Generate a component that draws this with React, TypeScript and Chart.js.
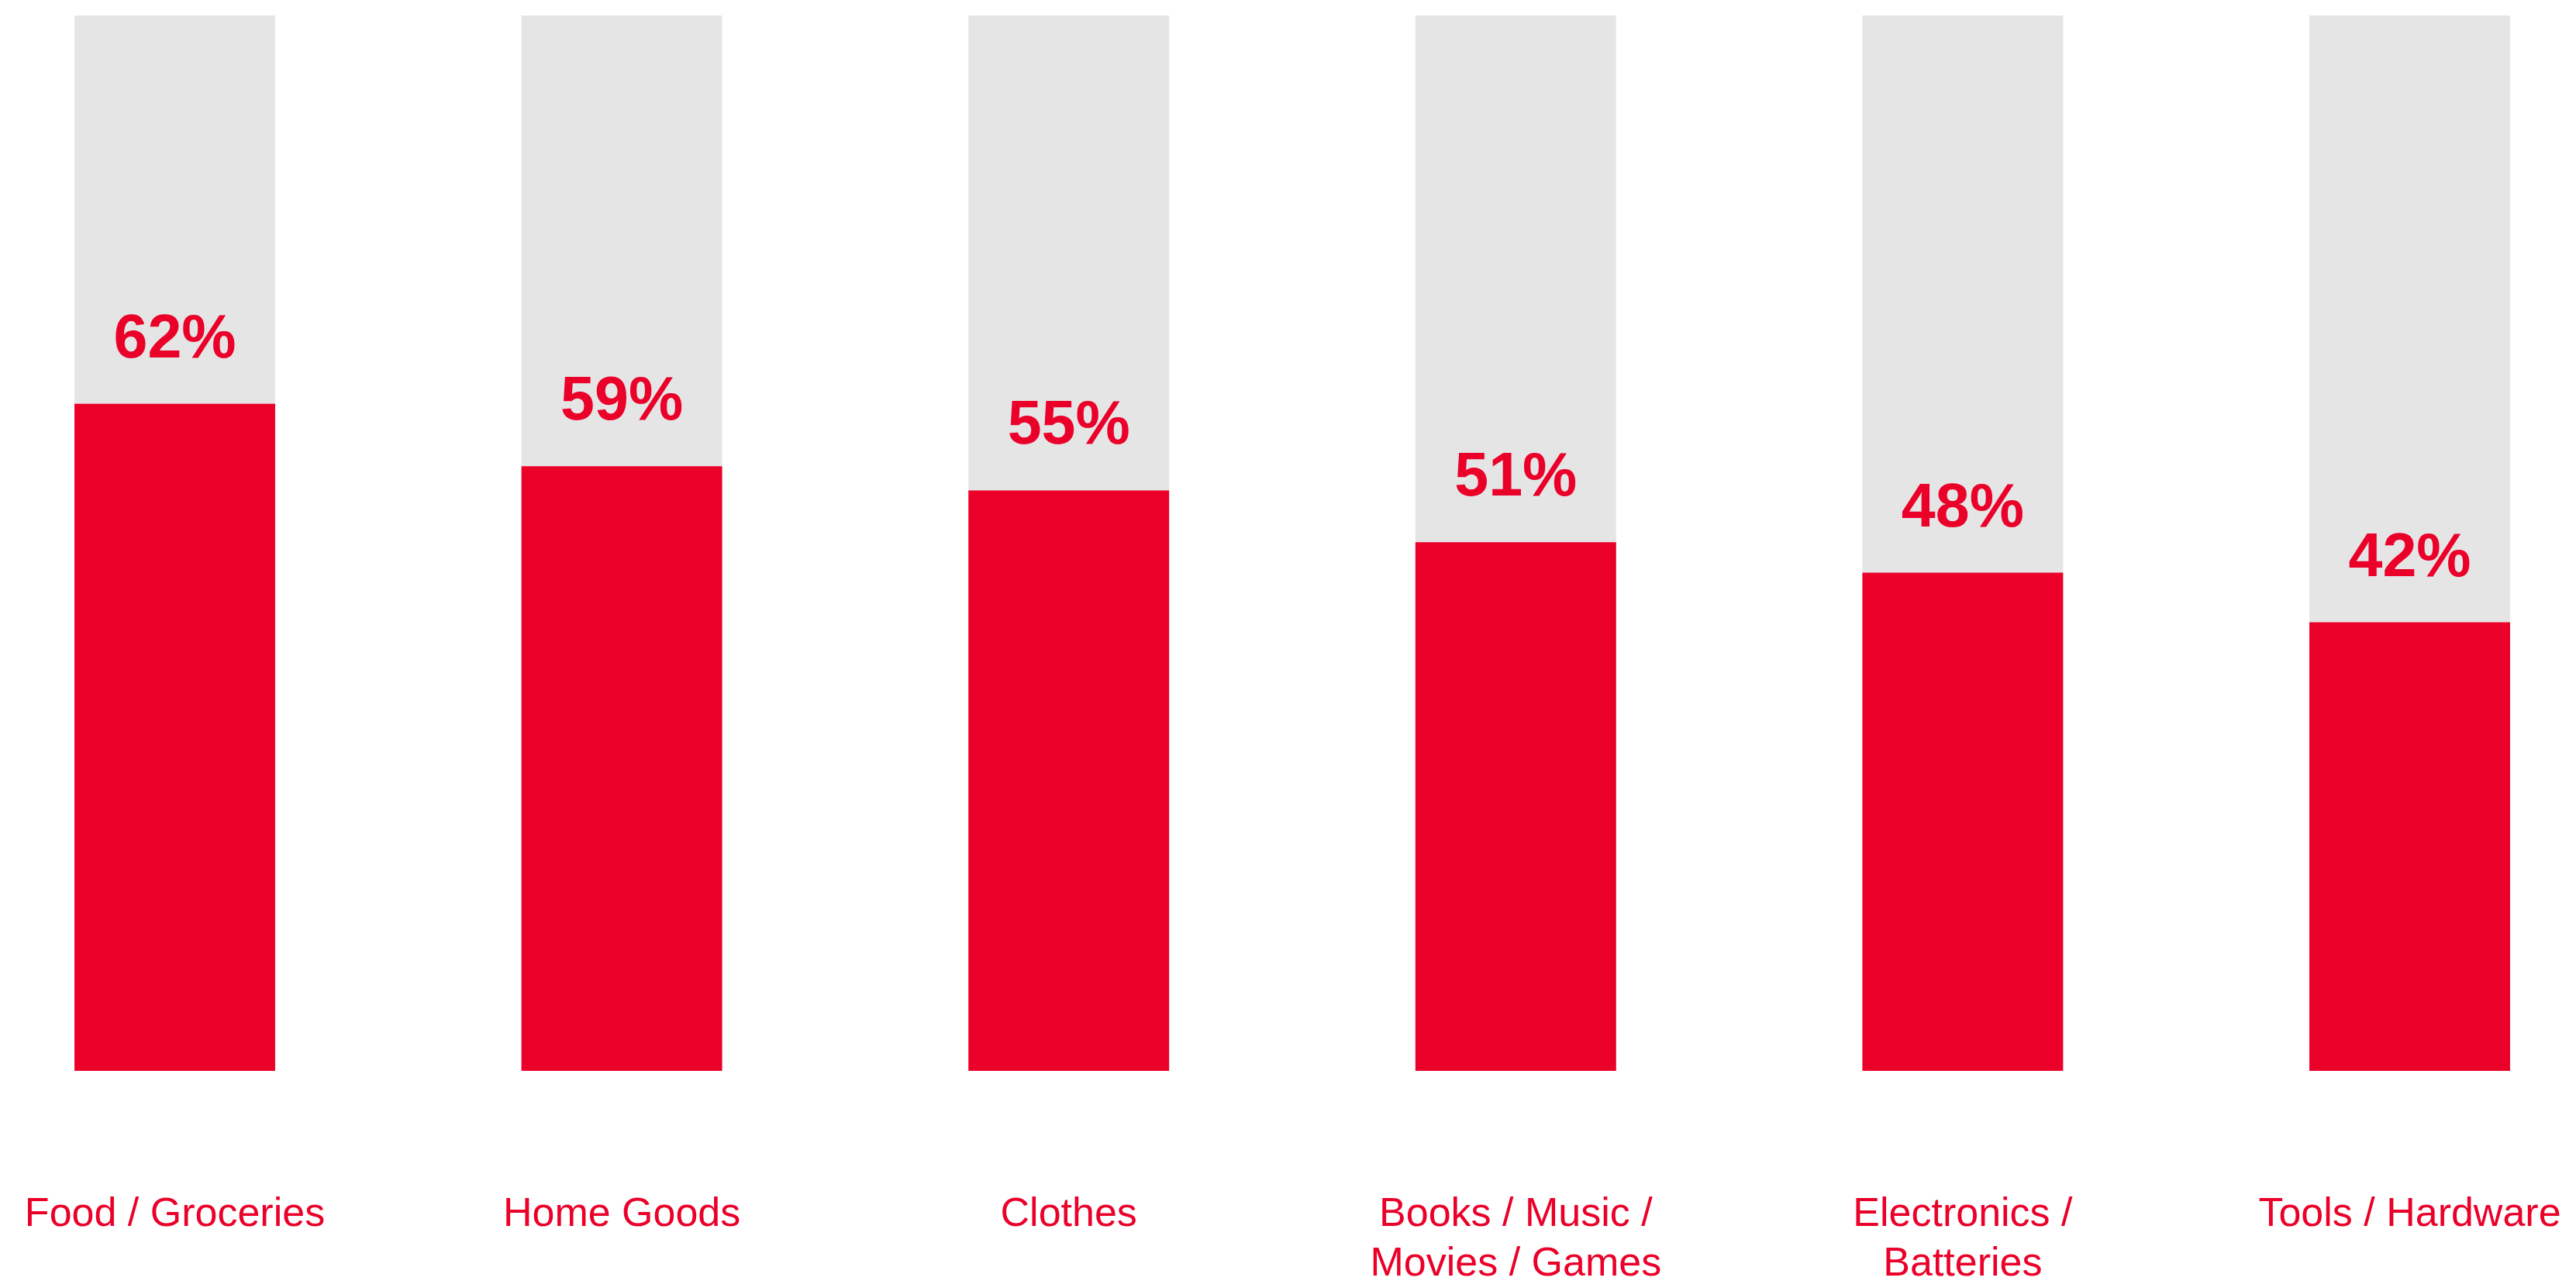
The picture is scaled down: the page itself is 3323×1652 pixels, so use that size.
import React, { useEffect, useRef } from "react";
import { Chart, registerables } from "chart.js";

Chart.register(...registerables);

const categories: string[][] = [
  ["Food / Groceries"],
  ["Home Goods"],
  ["Clothes"],
  ["Books / Music /", "Movies / Games"],
  ["Electronics /", "Batteries"],
  ["Tools / Hardware"],
];
const shareValues: number[] = [63.2, 57.3, 55.0, 50.1, 47.2, 42.5];
const trackValues: number[] = [100, 100, 100, 100, 100, 100];
const valueLabels: string[] = ["62%", "59%", "55%", "51%", "48%", "42%"];

const RED = "#EA0029";
const GREY = "#E5E5E5";
const FONT = "'Liberation Sans', Arial, Helvetica, sans-serif";

const valueLabelPlugin = {
  id: "valueLabels",
  afterDatasetsDraw(chart: any) {
    const meta = chart.getDatasetMeta(0);
    const ctx = chart.ctx;
    ctx.save();
    ctx.fillStyle = RED;
    ctx.font = `bold 79px ${FONT}`;
    ctx.textAlign = "center";
    ctx.textBaseline = "alphabetic";
    meta.data.forEach((el: any, i: number) => {
      ctx.fillText(valueLabels[i], el.x, el.y - 60);
    });
    ctx.restore();
  },
};

export default function App() {
  const ref = useRef<HTMLCanvasElement | null>(null);
  useEffect(() => {
    document.body.style.margin = "0";
    const canvas = ref.current!;
    const chart = new Chart(canvas, {
      type: "bar",
      data: {
        labels: categories,
        datasets: [
          {
            data: shareValues,
            backgroundColor: RED,
            borderWidth: 0,
            categoryPercentage: 1,
            barPercentage: 0.449,
            grouped: false,
            clip: false,
          } as any,
          {
            data: trackValues,
            backgroundColor: GREY,
            borderWidth: 0,
            categoryPercentage: 1,
            barPercentage: 0.449,
            grouped: false,
            clip: false,
          } as any,
        ],
      },
      options: {
        responsive: false,
        animation: false,
        devicePixelRatio: 1,
        layout: { padding: { left: 225.5, right: 214.5, top: 20, bottom: 0 } },
        plugins: { legend: { display: false }, tooltip: { enabled: false } },
        scales: {
          x: {
            type: "category",
            offset: false,
            grid: { display: false },
            border: { display: false },
            ticks: {
              color: RED,
              font: { family: FONT, size: 52, lineHeight: 1.24 },
              padding: 145,
              autoSkip: false,
              maxRotation: 0,
              minRotation: 0,
            },
            afterFit(scale: any) {
              scale.height = 271;
              scale.paddingLeft = 0;
              scale.paddingRight = 0;
            },
          },
          y: {
            display: false,
            min: 0,
            max: 100,
          },
        },
      } as any,
      plugins: [valueLabelPlugin],
    });
    return () => chart.destroy();
  }, []);
  return (
    <div style={{ position: "absolute", left: 0, top: 0, width: 3323, height: 1652 }}>
      <canvas ref={ref} width={3323} height={1652} style={{ display: "block" }} />
    </div>
  );
}
